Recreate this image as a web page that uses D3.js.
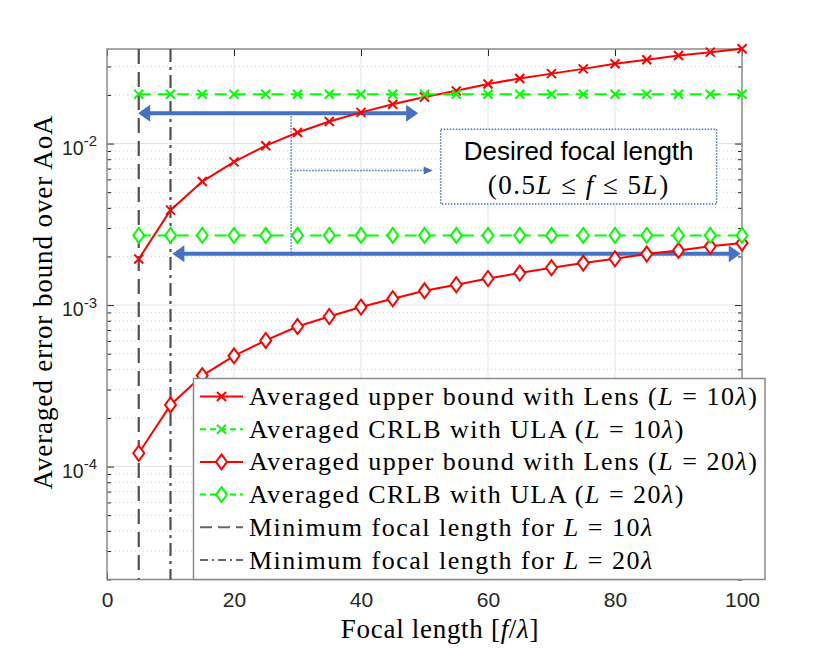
<!DOCTYPE html>
<html>
<head>
<meta charset="utf-8">
<script src="https://cdn.jsdelivr.net/npm/d3@7"></script>
<style>
  body { margin: 0; background: #fff; }
</style>
</head>
<body>
<svg id="chart" width="822" height="652"></svg>
<script>
// focal length samples [f/lambda]
const focal = [5, 10, 15, 20, 25, 30, 35, 40, 45, 50, 55, 60, 65, 70, 75, 80, 85, 90, 95, 100];
// averaged upper bound with lens, L = 10 lambda
const lens10 = [1.93e-3, 3.87e-3, 5.82e-3, 7.70e-3, 9.70e-3, 1.17e-2, 1.37e-2, 1.56e-2, 1.75e-2, 1.94e-2,
                2.12e-2, 2.34e-2, 2.53e-2, 2.71e-2, 2.90e-2, 3.12e-2, 3.30e-2, 3.51e-2, 3.68e-2, 3.86e-2];
// averaged CRLB with ULA, L = 10 lambda
const ula10 = [2.02e-2, 2.02e-2, 2.02e-2, 2.02e-2, 2.02e-2, 2.02e-2, 2.02e-2, 2.02e-2, 2.02e-2, 2.02e-2,
               2.02e-2, 2.02e-2, 2.02e-2, 2.02e-2, 2.02e-2, 2.02e-2, 2.02e-2, 2.02e-2, 2.02e-2, 2.02e-2];
// averaged upper bound with lens, L = 20 lambda
const lens20 = [1.21e-4, 2.41e-4, 3.66e-4, 4.85e-4, 6.04e-4, 7.37e-4, 8.50e-4, 9.72e-4, 1.094e-3, 1.226e-3,
                1.336e-3, 1.461e-3, 1.578e-3, 1.702e-3, 1.82e-3, 1.935e-3, 2.07e-3, 2.18e-3, 2.31e-3, 2.42e-3];
// averaged CRLB with ULA, L = 20 lambda
const ula20 = [2.70e-3, 2.70e-3, 2.70e-3, 2.70e-3, 2.70e-3, 2.70e-3, 2.70e-3, 2.70e-3, 2.70e-3, 2.70e-3,
               2.70e-3, 2.70e-3, 2.70e-3, 2.70e-3, 2.70e-3, 2.70e-3, 2.70e-3, 2.70e-3, 2.70e-3, 2.70e-3];
// minimum focal lengths for L = 10 lambda and L = 20 lambda
const minFocal = [5, 10];

const xTicks = [0, 20, 40, 60, 80, 100];
const yDecades = [1e-4, 1e-3, 1e-2];
const yMinor = [2e-5, 3e-5, 4e-5, 5e-5, 6e-5, 7e-5, 8e-5, 9e-5,
                2e-4, 3e-4, 4e-4, 5e-4, 6e-4, 7e-4, 8e-4, 9e-4,
                2e-3, 3e-3, 4e-3, 5e-3, 6e-3, 7e-3, 8e-3, 9e-3,
                2e-2, 3e-2];

// annotation, in data coordinates [f, value]
const arrowTop = [[49, 1.54e-2], [4.9, 1.54e-2]];
const arrowBottom = [[10.3, 2.08e-3], [99.8, 2.08e-3]];
const pointerV = [[29, 1.54e-2], [29, 2.0e-3]];
const pointerH = [[29, 6.82e-3], [51.3, 6.82e-3]];
const noteBox = [[52.55, 1.228e-2], [96.0, 4.22e-3]];

const legendLabels = [
  ["Averaged upper bound with Lens (", "L", " = 10", "λ", ")"],
  ["Averaged CRLB with ULA (", "L", " = 10", "λ", ")"],
  ["Averaged upper bound with Lens (", "L", " = 20", "λ", ")"],
  ["Averaged CRLB with ULA (", "L", " = 20", "λ", ")"],
  ["Minimum focal length for ", "L", " = 10", "λ", ""],
  ["Minimum focal length for ", "L", " = 20", "λ", ""]
];

const svg = d3.select('#chart');
const box = { left: 107, right: 742, top: 49, bottom: 579.5 };

const x = d3.scaleLinear().domain([0, 100]).range([box.left, box.right]);
const y = d3.scaleLog().domain([2e-5, 0.0385]).range([box.bottom, box.top]);

const serif = '"Liberation Serif", "Times New Roman", serif';
const sans = '"Liberation Sans", Arial, sans-serif';

// grid
const grid = svg.append('g');
grid.selectAll('.ym').data(yMinor).enter().append('line')
  .attr('x1', box.left).attr('x2', box.right)
  .attr('y1', d => y(d)).attr('y2', d => y(d))
  .attr('stroke', '#d2d2d2').attr('stroke-width', 1).attr('stroke-dasharray', '1,3');
grid.selectAll('.yM').data(yDecades).enter().append('line')
  .attr('x1', box.left).attr('x2', box.right)
  .attr('y1', d => y(d)).attr('y2', d => y(d))
  .attr('stroke', '#e3e3e3').attr('stroke-width', 1);
grid.selectAll('.xM').data(xTicks.slice(1, -1)).enter().append('line')
  .attr('y1', box.top).attr('y2', box.bottom)
  .attr('x1', d => x(d)).attr('x2', d => x(d))
  .attr('stroke', '#e3e3e3').attr('stroke-width', 1);

// axes with inward ticks
function styleAxis(g) {
  g.select('.domain').remove();
  g.selectAll('.tick line').attr('stroke', '#262626');
  g.selectAll('text').attr('fill', '#262626').style('font-family', sans).style('font-size', '21px');
}
svg.append('g').attr('transform', `translate(0,${box.bottom})`)
  .call(d3.axisBottom(x).tickValues(xTicks).tickSizeInner(-7).tickSizeOuter(0).tickPadding(12.5))
  .call(styleAxis);
svg.append('g').attr('transform', `translate(0,${box.top})`)
  .call(d3.axisTop(x).tickValues(xTicks).tickSizeInner(-7).tickSizeOuter(0).tickFormat(''))
  .call(styleAxis);
const yl = svg.append('g').attr('transform', `translate(${box.left},0)`)
  .call(d3.axisLeft(y).tickValues(yDecades).tickSizeInner(-7).tickSizeOuter(0).tickFormat(''))
  .call(styleAxis);
yl.selectAll('.tick').append('text')
  .attr('x', -10).attr('y', 10.5).attr('text-anchor', 'end')
  .attr('fill', '#262626').style('font-family', sans).style('font-size', '19.5px')
  .each(function (d) {
    const t = d3.select(this);
    t.append('tspan').text('10');
    t.append('tspan').attr('dy', -8.5).style('font-size', '15px').text(Math.round(Math.log10(d)));
  });
svg.append('g').attr('transform', `translate(${box.left},0)`)
  .call(d3.axisLeft(y).tickValues(yMinor).tickSizeInner(-4).tickSizeOuter(0).tickFormat(''))
  .call(styleAxis);
svg.append('g').attr('transform', `translate(${box.right},0)`)
  .call(d3.axisRight(y).tickValues(yDecades).tickSizeInner(-7).tickSizeOuter(0).tickFormat(''))
  .call(styleAxis);
svg.append('g').attr('transform', `translate(${box.right},0)`)
  .call(d3.axisRight(y).tickValues(yMinor).tickSizeInner(-4).tickSizeOuter(0).tickFormat(''))
  .call(styleAxis);

svg.append('rect')
  .attr('x', box.left).attr('y', box.top)
  .attr('width', box.right - box.left).attr('height', box.bottom - box.top)
  .attr('fill', 'none').attr('stroke', '#8a8a8a').attr('stroke-width', 1.5);

// minimum focal length markers
const grey = '#505050';
const minDash = ['15,8', '13,5,3,5'];
svg.selectAll('.minf').data(minFocal).enter().append('line')
  .attr('x1', d => x(d)).attr('x2', d => x(d))
  .attr('y1', box.top).attr('y2', box.bottom)
  .attr('stroke', grey).attr('stroke-width', 2.2)
  .attr('stroke-dasharray', (d, i) => minDash[i]);

// annotation
const blue = '#4472c4';
function doubleArrow(pts) {
  const x0 = x(pts[0][0]), x1 = x(pts[1][0]), yy = y(pts[0][1]);
  const a = Math.min(x0, x1), b = Math.max(x0, x1);
  const g = svg.append('g');
  g.append('line').attr('x1', a + 10).attr('x2', b - 10).attr('y1', yy).attr('y2', yy)
    .attr('stroke', blue).attr('stroke-width', 4);
  g.append('path').attr('d', `M${a},${yy}L${a + 12},${yy - 8.5}L${a + 12},${yy + 8.5}Z`).attr('fill', blue);
  g.append('path').attr('d', `M${b},${yy}L${b - 12},${yy - 8.5}L${b - 12},${yy + 8.5}Z`).attr('fill', blue);
}
doubleArrow(arrowTop);
doubleArrow(arrowBottom);

svg.append('line')
  .attr('x1', x(pointerV[0][0])).attr('x2', x(pointerV[1][0]))
  .attr('y1', y(pointerV[0][1])).attr('y2', y(pointerV[1][1]))
  .attr('stroke', blue).attr('stroke-width', 1.5).attr('stroke-dasharray', '1.5,1.5');
{
  const hx0 = x(pointerH[0][0]), hx1 = x(pointerH[1][0]), hy = y(pointerH[0][1]);
  svg.append('line').attr('x1', hx0).attr('x2', hx1 - 8).attr('y1', hy).attr('y2', hy)
    .attr('stroke', blue).attr('stroke-width', 1.5).attr('stroke-dasharray', '1.5,1.5');
  svg.append('path').attr('d', `M${hx1},${hy}L${hx1 - 9},${hy - 4}L${hx1 - 9},${hy + 4}Z`).attr('fill', blue);
}

// data series
const red = '#ff0000', green = '#00ff00';
const series = [
  { values: lens10, color: red, dash: null, marker: 'x' },
  { values: ula10, color: green, dash: '12,7', marker: 'x' },
  { values: lens20, color: red, dash: null, marker: 'd' },
  { values: ula20, color: green, dash: '12,7', marker: 'd' }
];
const line = d3.line().x(d => x(d[0])).y(d => y(d[1]));

function drawMarker(g, type, cx, cy, color) {
  if (type === 'x') {
    const s = 4.5;
    g.append('path').attr('d', `M${cx - s},${cy - s}L${cx + s},${cy + s}M${cx - s},${cy + s}L${cx + s},${cy - s}`)
      .attr('stroke', color).attr('stroke-width', 2).attr('fill', 'none');
  } else {
    g.append('path').attr('d', `M${cx},${cy - 7.5}L${cx + 5.5},${cy}L${cx},${cy + 7.5}L${cx - 5.5},${cy}Z`)
      .attr('stroke', color).attr('stroke-width', 2).attr('fill', '#fff');
  }
}

series.forEach(s => {
  const pts = focal.map((f, i) => [f, s.values[i]]);
  svg.append('path').datum(pts).attr('d', line)
    .attr('fill', 'none').attr('stroke', s.color).attr('stroke-width', 2)
    .attr('stroke-dasharray', s.dash);
  const g = svg.append('g');
  pts.forEach(p => drawMarker(g, s.marker, x(p[0]), y(p[1]), s.color));
});

// text box
{
  const bx0 = x(noteBox[0][0]), bx1 = x(noteBox[1][0]);
  const by0 = y(noteBox[0][1]), by1 = y(noteBox[1][1]);
  svg.append('rect').attr('x', bx0).attr('y', by0).attr('width', bx1 - bx0).attr('height', by1 - by0)
    .attr('fill', '#fff').attr('stroke', blue).attr('stroke-width', 1.5).attr('stroke-dasharray', '1.5,1.5');
  const cx = (bx0 + bx1) / 2;
  svg.append('text').attr('x', cx).attr('y', by0 + 31).attr('text-anchor', 'middle')
    .style('font-family', sans).style('font-size', '26px').attr('fill', '#000')
    .text('Desired focal length');
  const t2 = svg.append('text').attr('x', cx).attr('y', by0 + 65).attr('text-anchor', 'middle')
    .style('font-family', serif).style('font-size', '27px').style('letter-spacing', '1.5px').attr('fill', '#000');
  t2.append('tspan').text('(0.5');
  t2.append('tspan').style('font-style', 'italic').text('L');
  t2.append('tspan').text(' ≤ ');
  t2.append('tspan').style('font-style', 'italic').text('f');
  t2.append('tspan').text(' ≤ 5');
  t2.append('tspan').style('font-style', 'italic').text('L');
  t2.append('tspan').text(')');
}

// axis labels
const xl = svg.append('text').attr('x', 440).attr('y', 638).attr('text-anchor', 'middle')
  .style('font-family', serif).style('font-size', '27px').style('letter-spacing', '0.7px').attr('fill', '#000');
xl.append('tspan').text('Focal length [');
xl.append('tspan').style('font-style', 'italic').text('f');
xl.append('tspan').text('/');
xl.append('tspan').style('font-style', 'italic').text('λ');
xl.append('tspan').text(']');

svg.append('text').attr('transform', 'translate(52,302) rotate(-90)').attr('text-anchor', 'middle')
  .style('font-family', serif).style('font-size', '27px').attr('fill', '#000')
  .style('letter-spacing', '0.9px')
  .text('Averaged error bound over AoA');

// legend
const lg = svg.append('g');
lg.append('rect').attr('x', 193.5).attr('y', 378.5).attr('width', 571.5).attr('height', 201)
  .attr('fill', '#fff').attr('stroke', '#8a8a8a').attr('stroke-width', 1.5);
const legendStyle = [
  { color: red, dash: null, marker: 'x' },
  { color: green, dash: '6,4', marker: 'x' },
  { color: red, dash: null, marker: 'd' },
  { color: green, dash: '6,4', marker: 'd' },
  { color: '#666', dash: '12,6', marker: null },
  { color: '#666', dash: '8,4,2,4', marker: null }
];
legendLabels.forEach((parts, i) => {
  const cy = 396.5 + i * 32.7;
  const st = legendStyle[i];
  lg.append('line').attr('x1', 200).attr('x2', 243).attr('y1', cy).attr('y2', cy)
    .attr('stroke', st.color).attr('stroke-width', 2).attr('stroke-dasharray', st.dash);
  if (st.marker) drawMarker(lg, st.marker, 221.5, cy, st.color);
  const t = lg.append('text').attr('x', 249).attr('y', cy + 8.5)
    .style('font-family', serif).style('font-size', '26px').style('letter-spacing', '1.5px').attr('fill', '#000');
  parts.forEach((p, k) => {
    if (!p) return;
    const sp = t.append('tspan').text(p);
    if (k === 1 || k === 3) sp.style('font-style', 'italic');
  });
});
</script>
</body>
</html>
